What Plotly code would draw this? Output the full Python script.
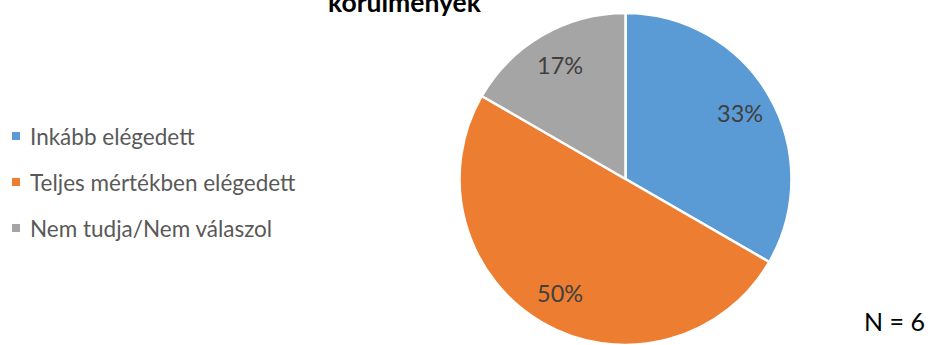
import math
import plotly.graph_objects as go

# Survey answers (N = 6)
categories = ["Inkább elégedett", "Teljes mértékben elégedett", "Nem tudja/Nem válaszol"]
counts = [2, 3, 1]
colors = ["#5B9BD5", "#ED7D31", "#A5A5A5"]
title_text = "körülmények"
note_text = "N = 6"

W, H = 931, 345
FONT = "Lato, Carlito, Calibri, sans-serif"

# pie placement in pixels
cx_px, radius_px = 625.5, 166
top_px = H - 2 * radius_px
dom_x = [(cx_px - radius_px) / W, (cx_px + radius_px) / W]
dom_y = [0, 1 - top_px / H]
cy_px = top_px + radius_px

fig = go.Figure(
    go.Pie(
        labels=categories,
        values=counts,
        sort=False,
        direction="clockwise",
        rotation=0,
        marker=dict(colors=colors, line=dict(color="white", width=2.5)),
        textinfo="none",
        hoverinfo="label+percent",
        domain=dict(x=dom_x, y=dom_y),
        showlegend=False,
    )
)

annotations = []
shapes = []

# percentage labels placed along each slice's bisector
total = sum(counts)
start = 0.0
for val in counts:
    frac = val / total
    mid = (start + frac / 2) * 2 * math.pi
    d = 0.795 * radius_px
    px = cx_px + d * math.sin(mid)
    py = cy_px - d * math.cos(mid)
    annotations.append(dict(
        x=px / W, y=1 - py / H, xref="paper", yref="paper",
        text=f"{round(frac * 100)}%", showarrow=False,
        xanchor="center", yanchor="middle",
        font=dict(family=FONT, size=23.5, color="#404040"),
    ))
    start += frac

# legend drawn as squares and labels
leg_y0, leg_dy = 136, 46
for i, (name, col) in enumerate(zip(categories, colors)):
    yc = leg_y0 + i * leg_dy
    shapes.append(dict(
        type="rect", xref="paper", yref="paper",
        x0=12 / W, x1=20 / W, y0=1 - (yc + 4) / H, y1=1 - (yc - 4) / H,
        fillcolor=col, line=dict(width=0),
    ))
    annotations.append(dict(
        x=28 / W, y=1 - yc / H, xref="paper", yref="paper",
        text=name, showarrow=False, xanchor="left", yanchor="middle",
        font=dict(family=FONT, size=22.5, color="#595959"),
    ))

# title (last line, partly above the top edge)
annotations.append(dict(
    x=405 / W, y=1 - 20 / H, xref="paper", yref="paper",
    text=f"<b>{title_text}</b>", showarrow=False,
    xanchor="center", yanchor="bottom",
    font=dict(family=FONT, size=26.5, color="#000000"),
))

# sample size note
annotations.append(dict(
    x=894.5 / W, y=1 - 321 / H, xref="paper", yref="paper",
    text=note_text, showarrow=False, xanchor="center", yanchor="middle",
    font=dict(family=FONT, size=25, color="#000000"),
))

fig.update_layout(
    width=W, height=H,
    margin=dict(l=0, r=0, t=0, b=0),
    paper_bgcolor="white", plot_bgcolor="white",
    annotations=annotations, shapes=shapes,
)

fig.write_html("out.html")
